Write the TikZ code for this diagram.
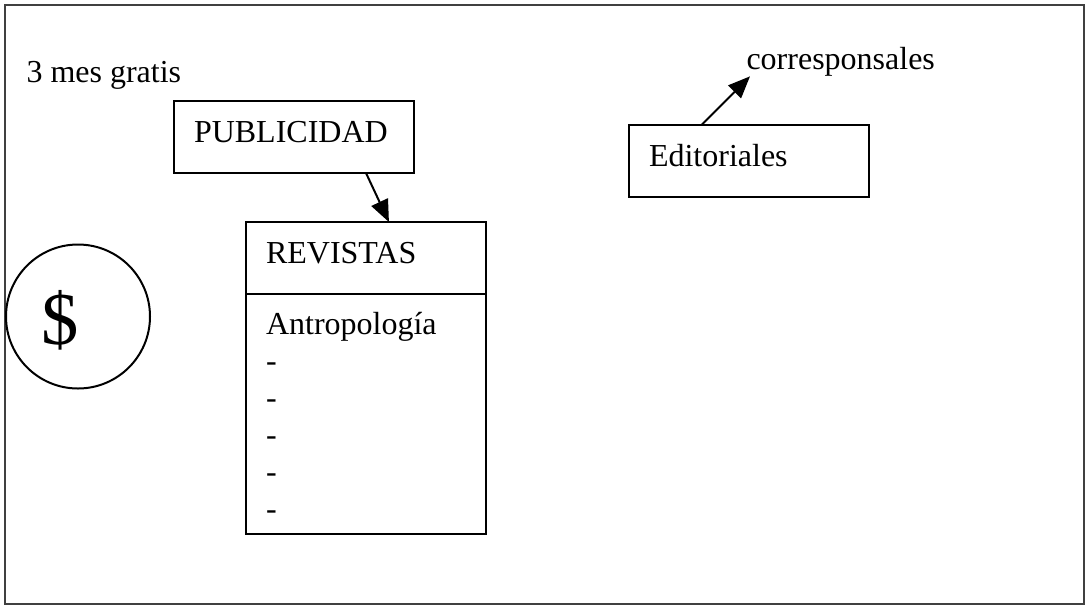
\documentclass[tikz,border=0pt]{standalone}
\usepackage{fontspec}
\setmainfont{Liberation Serif}
\usetikzlibrary{arrows.meta,positioning}
\tikzset{
	caja/.style={draw, line width=0.75pt, outer sep=0pt, inner xsep=7.5pt, inner ysep=0pt, text width=75pt, align=left, text height=15.4pt, text depth=11.6pt, anchor=north west},
	flecha/.style={line width=0.75pt, -{Triangle[length=8.25pt,width=6.75pt]}},
	texto/.style={inner sep=0pt, anchor=base west}
}
\begin{document}
\begin{tikzpicture}[x=0.375pt, y=-0.375pt, font=\fontsize{12}{13.875}\selectfont]
			%%%%% START %%%%%
			
			\useasboundingbox (0,0) rectangle (1086,605);
			\draw[line width=0.75pt, color=black!75] (5,5) rectangle (1084,604);
			
			\node[texto] (gratis) at (26,82) {3 mes gratis};
			\node[caja] (publicidad) at (174,101) {PUBLICIDAD};
			
			\node[caja] (revistas) at (246,222) {REVISTAS};
			\node[caja, below=0pt of revistas, text height=15pt, text depth=75pt] (lista) {Antropología\\-\\-\\-\\-\\-};
			
			\node[circle, draw, line width=0.75pt, minimum size=54pt, inner sep=0pt] (moneda) at (78,316.5) {};
			\node[inner sep=0pt, font=\fontsize{28}{28}\selectfont] (signo) at ([xshift=-6.75pt, yshift=-1.3pt]moneda.center) {\$};
			
			\node[caja] (editoriales) at (629,125) {Editoriales};
			\node[texto] (corresponsales) at (746,69) {corresponsales};
			
			\draw[flecha] ([xshift=27pt]publicidad.south) -- ([xshift=8.6pt]revistas.north);
			\draw[flecha] ([xshift=-17.8pt]editoriales.north) -- ([xshift=1.5pt]corresponsales.south west);
			
			%%%%% END %%%%%
\end{tikzpicture}
\end{document}
